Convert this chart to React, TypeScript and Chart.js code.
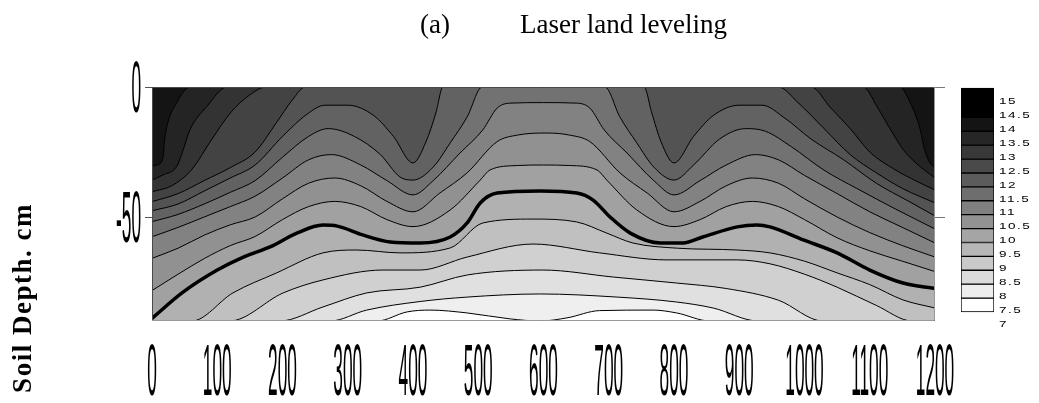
import React, { useEffect, useRef } from "react";
import { Chart, registerables } from "chart.js";

Chart.register(...registerables);

// ---------- data ----------
const X_TICKS = [0, 100, 200, 300, 400, 500, 600, 700, 800, 900, 1000, 1100, 1200];
const Y_TICKS = [0, -50];

// contour lines: [distance, depth]
const LINE_7_5 = [[0, -90], [345, -90], [391, -86.5], [426, -85.8], [483, -86.9], [549, -89.2], [595, -90], [636, -88.8], [686, -86], [768, -85.8], [804, -86.9], [855, -90], [1200, -90]];
const LINE_8 = [[0, -90], [273, -90], [329, -85.8], [411, -82.5], [483, -80.8], [595, -79.6], [713, -80.8], [804, -82.7], [860, -85], [929, -90], [1200, -90]];
const LINE_8_5 = [[0, -90], [196, -90], [262, -84.6], [329, -79.2], [411, -77], [483, -72.3], [599, -70.4], [707, -73.1], [804, -75.4], [880, -77.5], [960, -82], [1028, -90], [1200, -90]];
const LINE_9 = [[0, -90], [119, -90], [201, -79.2], [262, -74.2], [354, -70.4], [411, -70.4], [483, -65.4], [584, -60.4], [686, -63.8], [789, -66.5], [897, -66.5], [947, -68], [1000, -72], [1050, -77], [1110, -84], [1165, -90], [1200, -90]];
const LINE_9_5 = [[0, -90], [61, -90], [124, -79.2], [191, -71.5], [262, -63.8], [314, -62.7], [380, -63.8], [457, -61.9], [507, -52.3], [584, -50.8], [651, -51.9], [697, -56.2], [737, -60], [805, -62], [897, -62.7], [947, -63.8], [1000, -67], [1050, -71.5], [1100, -76], [1151, -81.9], [1200, -85]];
const LINE_10 = [[0, -89], [47, -79], [100, -70.4], [140, -65.4], [181, -61.5], [222, -56.2], [262, -53.1], [284, -53.5], [323, -56.9], [365, -59.6], [411, -60], [457, -57.7], [483, -52.3], [503, -44.6], [529, -40.8], [595, -40], [651, -40.8], [676, -43.5], [702, -50], [733, -56.2], [779, -60], [814, -60], [844, -57.7], [897, -53.8], [927, -53.1], [947, -53.8], [998, -58.8], [1050, -63.8], [1100, -70.4], [1151, -75.4], [1200, -77.5]];
const LINE_10_5 = [[0, -78.3], [40, -72], [80, -66], [120, -61], [158, -57.5], [200, -51], [240, -46], [280, -44], [320, -46], [360, -51], [400, -53.7], [457, -47.3], [503, -35.8], [518, -31.9], [560, -30.2], [600, -30], [640, -30.2], [682, -31.9], [697, -35.8], [743, -47.3], [800, -53.7], [840, -51], [880, -46], [920, -44], [960, -46], [1000, -51], [1050, -58], [1100, -63], [1150, -67], [1200, -71]];
const LINE_11 = [[0, -65.9], [40, -62], [80, -57], [120, -53], [158, -50], [200, -43], [240, -37], [280, -35], [320, -38], [360, -44], [400, -48], [441, -40.8], [483, -33], [529, -21], [560, -18.5], [605, -17.7], [640, -18.5], [671, -21], [717, -33], [759, -40.8], [800, -48], [840, -44], [880, -38], [920, -35], [960, -37], [1000, -43], [1050, -50], [1100, -56], [1150, -61], [1200, -65.4]];
const LINE_11_5 = [[0, -57.6], [40, -54], [80, -50], [120, -46], [158, -42], [200, -35], [240, -28], [275, -26], [320, -30], [360, -36], [400, -41.5], [431, -36], [472, -25.4], [507, -16.5], [529, -8.1], [550, -6.2], [600, -6], [650, -6.2], [671, -8.1], [693, -16.5], [728, -25.4], [769, -36], [800, -41.5], [840, -36], [880, -30], [925, -26], [960, -28], [1000, -34], [1050, -41], [1100, -48], [1150, -54], [1200, -60]];
const LINE_12 = [[0, -51.8], [40, -49], [80, -45], [120, -40.5], [158, -36], [200, -27], [240, -19], [270, -16], [310, -19], [350, -26], [380, -34.6], [400, -35.8], [431, -30.8], [457, -21.5], [483, -11.5], [506, 0], [694, 0], [717, -11.5], [743, -21.5], [769, -30.8], [800, -35.8], [830, -30], [870, -20], [910, -16], [940, -17], [980, -23], [1030, -32], [1080, -39], [1140, -47], [1200, -54.6]];
const LINE_12_5 = [[0, -47.6], [40, -45], [80, -40], [120, -35], [158, -30], [200, -19], [240, -10], [265, -7], [300, -7], [340, -11], [370, -19], [400, -29.2], [420, -21], [435, -10], [446, 0], [754, 0], [766, -10], [780, -21], [800, -29.2], [830, -19], [860, -11], [900, -7], [935, -7], [970, -12], [1010, -20], [1060, -28], [1110, -37], [1160, -44], [1200, -49.6]];
const LINE_13 = [[0, -44.1], [40, -41], [80, -36], [120, -31], [158, -25], [190, -14], [215, -5], [235, 0], [960, 0], [990, -6], [1030, -16], [1070, -26], [1110, -33], [1150, -39], [1200, -44.6]];
const LINE_13_5 = [[0, -40.3], [30, -38], [60, -32], [92, -20], [120, -10], [150, -3], [175, 0], [1010, 0], [1040, -8], [1070, -16], [1100, -25], [1140, -32], [1170, -36], [1200, -39.6]];
const LINE_14 = [[0, -35.8], [17, -33.8], [38, -30.5], [48, -24], [58, -16.5], [84, -7.5], [115, 0], [1090, 0], [1111, -7.5], [1131, -16], [1151, -24], [1172, -29.5], [1200, -35]];
const LINE_14_5 = [[0, -30.4], [8, -30], [17, -27], [19, -21], [24, -14], [38, -6], [58, 0], [1146, 0], [1162, -6], [1177, -16], [1184, -24], [1192, -29], [1200, -31]];
const LINE_15 = [[0, 0], [1200, 0]];

const LEVELS = [7.5, 8, 8.5, 9, 9.5, 10, 10.5, 11, 11.5, 12, 12.5, 13, 13.5, 14, 14.5, 15];
const LINES = [LINE_7_5, LINE_8, LINE_8_5, LINE_9, LINE_9_5, LINE_10, LINE_10_5, LINE_11, LINE_11_5, LINE_12, LINE_12_5, LINE_13, LINE_13_5, LINE_14, LINE_14_5, LINE_15];
// gray of the band just below each level
const BAND_GRAYS = [255, 239, 224, 208, 192, 177, 161, 145, 130, 114, 98, 83, 67, 51, 36, 20];
const THICK_LEVEL = 10;

// colour bar
const CB_EDGES = [15.45, 14.4, 13.9, 13.4, 12.9, 12.4, 11.9, 11.4, 10.9, 10.4, 9.9, 9.4, 8.9, 8.4, 7.9, 7.4];
const CB_GRAYS = [0, 20, 38, 56, 74, 92, 110, 128, 146, 165, 183, 201, 219, 237, 255];
const CB_LABELS = [15, 14.5, 14, 13.5, 13, 12.5, 12, 11.5, 11, 10.5, 10, 9.5, 9, 8.5, 8, 7.5, 7];

const TITLE_A = "(a)";
const TITLE = "Laser land leveling";
const Y_TITLE = "Soil Depth. cm";

const gray = (g: number) => `rgb(${g},${g},${g})`;

const mainDecor = {
  id: "mainDecor",
  afterDraw(chart: any) {
    const { ctx, chartArea: a, scales } = chart;
    const xs = scales.x;
    const ys = scales.y;
    ctx.save();
    // frame
    ctx.lineWidth = 1;
    ctx.strokeStyle = "#4a4a4a";
    ctx.beginPath();
    ctx.moveTo(a.left + 0.5, a.bottom);
    ctx.lineTo(a.left + 0.5, a.top + 0.5);
    ctx.lineTo(a.right, a.top + 0.5);
    ctx.stroke();
    ctx.strokeStyle = "#999";
    ctx.beginPath();
    ctx.moveTo(a.right - 0.5, a.top);
    ctx.lineTo(a.right - 0.5, a.bottom - 0.5);
    ctx.lineTo(a.left, a.bottom - 0.5);
    ctx.stroke();
    // y tick marks
    for (const v of Y_TICKS) {
      const y = Math.round(ys.getPixelForValue(v)) + 0.5;
      ctx.strokeStyle = "#555";
      ctx.beginPath();
      ctx.moveTo(a.left - 7, y);
      ctx.lineTo(a.left, y);
      ctx.stroke();
      ctx.strokeStyle = "#777";
      ctx.beginPath();
      ctx.moveTo(a.right, y);
      ctx.lineTo(a.right + 10, y);
      ctx.stroke();
    }
    // tick labels (condensed)
    ctx.fillStyle = "#000";
    ctx.font = '72px "Liberation Sans", Arial, sans-serif';
    ctx.textBaseline = "alphabetic";
    ctx.textAlign = "center";
    for (const v of X_TICKS) {
      const x = xs.getPixelForValue(v);
      ctx.save();
      ctx.translate(x, 395);
      ctx.scale(0.24, 1);
      ctx.fillText(String(v), 0, 0);
      ctx.restore();
    }
    ctx.textAlign = "right";
    for (const v of Y_TICKS) {
      const y = ys.getPixelForValue(v);
      ctx.save();
      ctx.translate(a.left - 11, y + 25);
      ctx.scale(0.24, 1);
      ctx.fillText(String(v), 0, 0);
      ctx.restore();
    }
    // title
    ctx.textAlign = "left";
    ctx.font = '27px "Liberation Serif", "Times New Roman", serif';
    ctx.fillText(TITLE_A, 420, 33);
    ctx.fillText(TITLE, 520, 33);
    // y title
    ctx.save();
    ctx.translate(31, 298);
    ctx.rotate(-Math.PI / 2);
    ctx.textAlign = "center";
    ctx.font = 'bold 27px "Liberation Serif", "Times New Roman", serif';
    (ctx as any).letterSpacing = "1.5px";
    ctx.fillText(Y_TITLE, 0, 0);
    ctx.restore();
    ctx.restore();
  },
};

const cbDecor = {
  id: "cbDecor",
  afterDraw(chart: any) {
    const { ctx, chartArea: a, scales } = chart;
    const ys = scales.y;
    ctx.save();
    ctx.fillStyle = "#000";
    ctx.font = '9px "Liberation Sans", Arial, sans-serif';
    ctx.textAlign = "left";
    ctx.textBaseline = "alphabetic";
    (ctx as any).letterSpacing = "1px";
    for (const v of CB_LABELS) {
      const y = ys.getPixelForValue(v);
      ctx.save();
      ctx.translate(a.right + 5, y + 3.5);
      ctx.scale(1.5, 1);
      ctx.fillText(String(v), 0, 0);
      ctx.restore();
    }
    ctx.restore();
  },
};

export default function App() {
  const mainRef = useRef<HTMLCanvasElement | null>(null);
  const cbRef = useRef<HTMLCanvasElement | null>(null);

  useEffect(() => {
    const datasets = LINES.map((pts, i) => {
      const level = LEVELS[i];
      const isTop = i === LINES.length - 1;
      return {
        label: String(level),
        data: pts.map(([x, y]) => ({ x, y })),
        borderColor: "#000",
        borderWidth: isTop ? 0 : level === THICK_LEVEL ? 3.5 : 1,
        backgroundColor: gray(BAND_GRAYS[i]),
        fill: "start",
        pointRadius: 0,
        cubicInterpolationMode: "monotone",
      };
    });
    const main = new Chart(mainRef.current!, {
      type: "line",
      data: { datasets } as any,
      options: {
        responsive: false,
        animation: false,
        events: [],
        layout: { padding: { left: 152, right: 104, top: 87, bottom: 82 } },
        scales: {
          x: { type: "linear", min: 0, max: 1200, display: false },
          y: { type: "linear", min: -90, max: 0, display: false },
        },
        plugins: {
          legend: { display: false },
          tooltip: { enabled: false },
          filler: { drawTime: "beforeDatasetsDraw" },
        },
      } as any,
      plugins: [mainDecor],
    });

    const cbDatasets = CB_GRAYS.map((g, i) => ({
      data: [[CB_EDGES[i + 1], CB_EDGES[i]]],
      backgroundColor: gray(g),
      borderColor: "#000",
      borderWidth: 1,
      borderSkipped: false,
      barPercentage: 1,
      categoryPercentage: 1,
      grouped: false,
    }));
    const cb = new Chart(cbRef.current!, {
      type: "bar",
      data: { labels: ["c"], datasets: cbDatasets } as any,
      options: {
        responsive: false,
        animation: false,
        events: [],
        layout: { padding: { left: 21, right: 45, top: 6.8, bottom: 3 } },
        scales: {
          x: { display: false },
          y: { type: "linear", min: 6.5, max: 15.5, display: false },
        },
        plugins: { legend: { display: false }, tooltip: { enabled: false } },
      } as any,
      plugins: [cbDecor],
    });
    return () => {
      main.destroy();
      cb.destroy();
    };
  }, []);

  return (
    <div style={{ position: "absolute", left: 0, top: 0, width: 1039, height: 403, background: "#fff", overflow: "hidden" }}>
      <canvas ref={mainRef} width={1039} height={403} style={{ position: "absolute", left: 0, top: 0 }} />
      <canvas ref={cbRef} width={99} height={260} style={{ position: "absolute", left: 940, top: 80 }} />
    </div>
  );
}
